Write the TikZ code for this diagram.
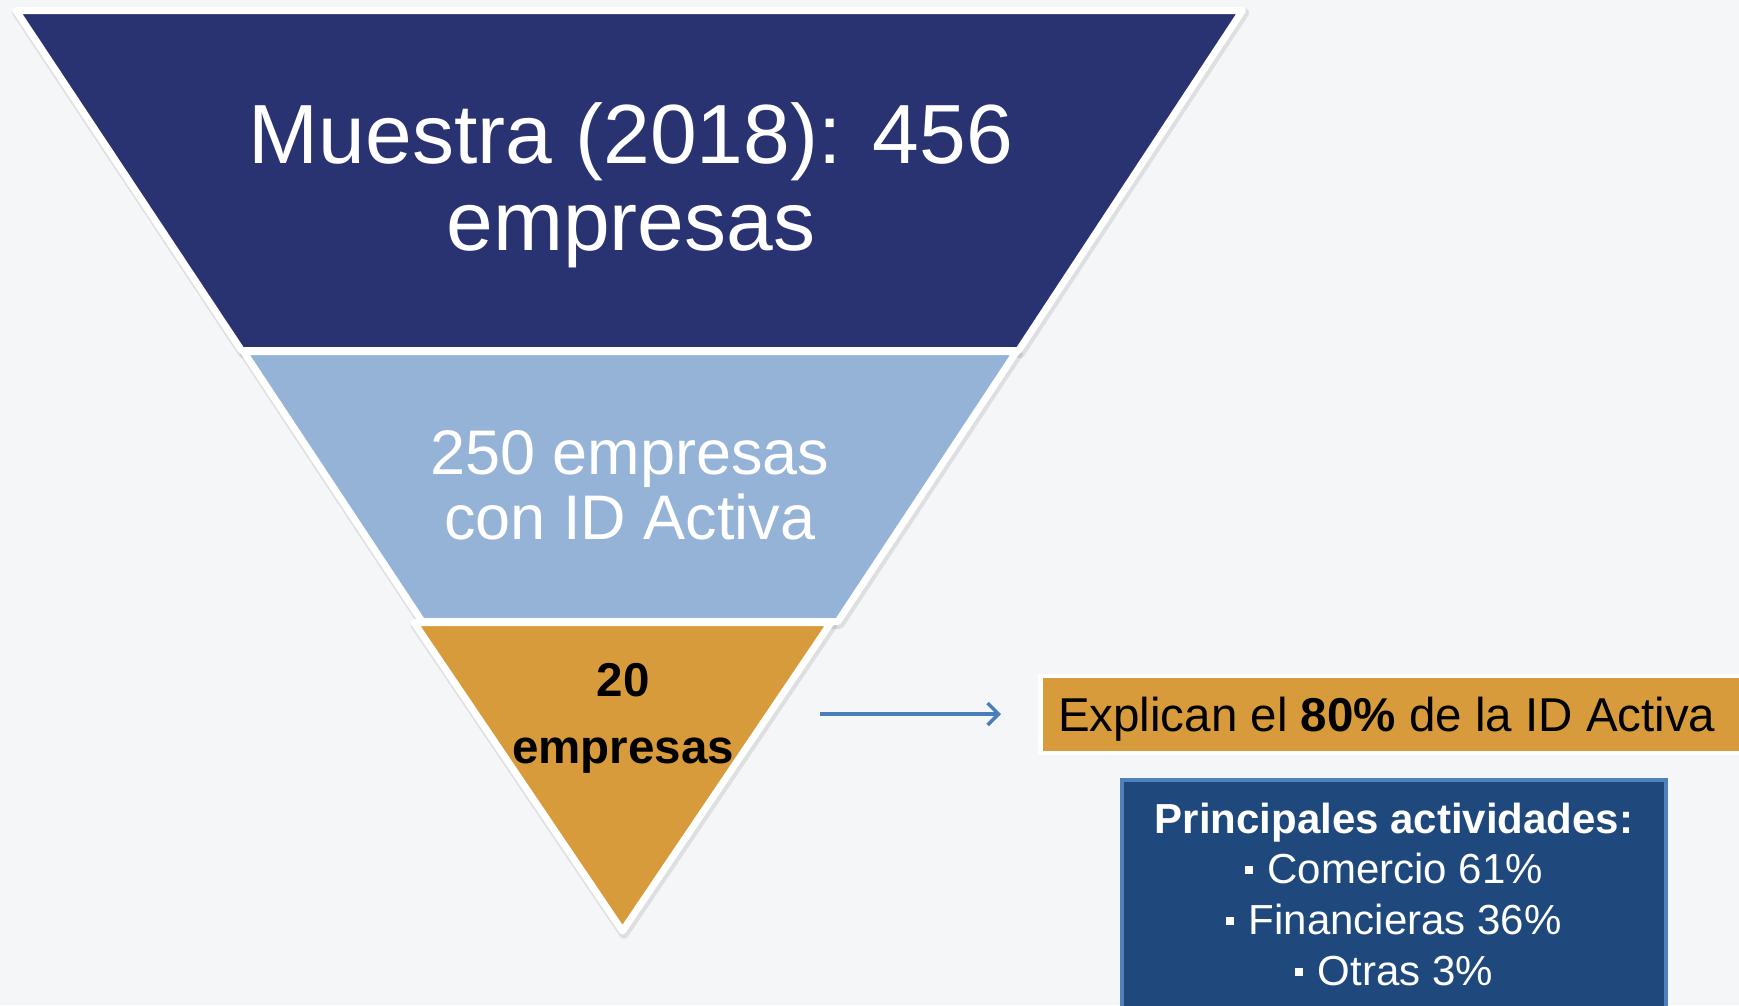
\documentclass[tikz,border=0pt]{standalone}
\usepackage{fontspec}
\setmainfont{Liberation Sans}
\usetikzlibrary{arrows.meta}
\definecolor{bgc}{RGB}{245,246,248}
\definecolor{navy}{RGB}{41,51,114}
\definecolor{lblue}{RGB}{149,179,215}
\definecolor{orng}{RGB}{215,155,60}
\definecolor{bboxc}{RGB}{31,73,125}
\definecolor{bborder}{RGB}{79,129,189}
\definecolor{arrc}{RGB}{74,126,187}
\newcommand\mybul{\raisebox{9pt}{\rule{8pt}{8pt}}\hspace{14.5pt}}
\tikzset{
  seg/.style={draw=white, line width=7pt, line join=round},
  segshadow/.style={draw=black, fill=black, line width=10pt, line join=round, opacity=0.09},
  lbl/.style={inner sep=0pt, outer sep=0pt, anchor=base, text=white},
  arr/.style={draw=arrc, line width=3.5pt, -{Straight Barb[length=11pt,width=22pt,line width=3.5pt]}},
}
\begin{document}
\begin{tikzpicture}[x=1pt,y=-1pt]
\useasboundingbox (0,0) rectangle (1739,1005);
\clip (0,0) rectangle (1739,1005);
\fill[bgc] (0,0) rectangle (1739,1005);
% shadows
\begin{scope}[shift={(1.5,2.5)}]
\path[segshadow] (16,10.5) -- (1242.5,10.5) -- (1018.6,350.5) -- (241.6,350.5) -- cycle;
\path[segshadow] (243.5,351.5) -- (1016.5,351.5) -- (837.9,621.5) -- (422.1,621.5) -- cycle;
\path[segshadow] (414,622.5) -- (831,622.5) -- (622.5,931) -- cycle;
\end{scope}
% funnel segments
\path[seg, fill=navy] (16,10.5) -- (1242.5,10.5) -- (1018.6,350.5) -- (241.6,350.5) -- cycle;
\path[seg, fill=lblue] (243.5,351.5) -- (1016.5,351.5) -- (837.9,621.5) -- (422.1,621.5) -- cycle;
\path[seg, fill=orng] (414,622.5) -- (831,622.5) -- (622.5,931) -- cycle;
% funnel texts
\node[lbl, font=\fontsize{84}{84}\selectfont] (m1) at (631,163) {Muestra (2018): 456};
\node[lbl, font=\fontsize{84}{84}\selectfont] (m2) at (631,250) {empresas};
\node[lbl, font=\fontsize{63}{63}\selectfont] (b1) at (630,474) {250 empresas};
\node[lbl, font=\fontsize{63}{63}\selectfont] (b2) at (630,539.6) {con ID Activa};
\node[lbl, text=black, font=\bfseries\fontsize{47.5}{47.5}\selectfont] (o1) at (623,696) {20};
\node[lbl, text=black, font=\bfseries\fontsize{47.5}{47.5}\selectfont] (o2) at (623,763) {empresas};
% explanation box
\node[draw=white, line width=4.5pt, fill=orng, outer sep=0pt, inner sep=0pt,
      minimum width=760pt, minimum height=77pt, anchor=north west] (expl) at (1040.5,676) {};
\node[inner sep=0pt, outer sep=0pt, anchor=base west, font=\fontsize{47.5}{47.5}\selectfont]
      (expltxt) at (1058,731) {Explican el \textbf{80\%} de la ID Activa};
% arrow
\coordinate (astart) at (820,714);
\draw[arr, shorten >=39.5pt] (astart) -- (expl.west |- astart);
% activities box
\node[draw=bborder, line width=3.5pt, fill=bboxc, outer sep=0pt, inner sep=0pt,
      minimum width=544pt, minimum height=300pt, anchor=north west] (act) at (1122,780) {};
\node[lbl, font=\bfseries\fontsize{42}{42}\selectfont] (p0) at (1394,833) {Principales actividades:};
\node[lbl, font=\fontsize{42}{42}\selectfont] (p1) at (1394,883) {\mybul Comercio 61\%};
\node[lbl, font=\fontsize{42}{42}\selectfont] (p2) at (1394,934) {\mybul Financieras 36\%};
\node[lbl, font=\fontsize{42}{42}\selectfont] (p3) at (1394,985) {\mybul Otras 3\%};
\end{tikzpicture}
\end{document}
